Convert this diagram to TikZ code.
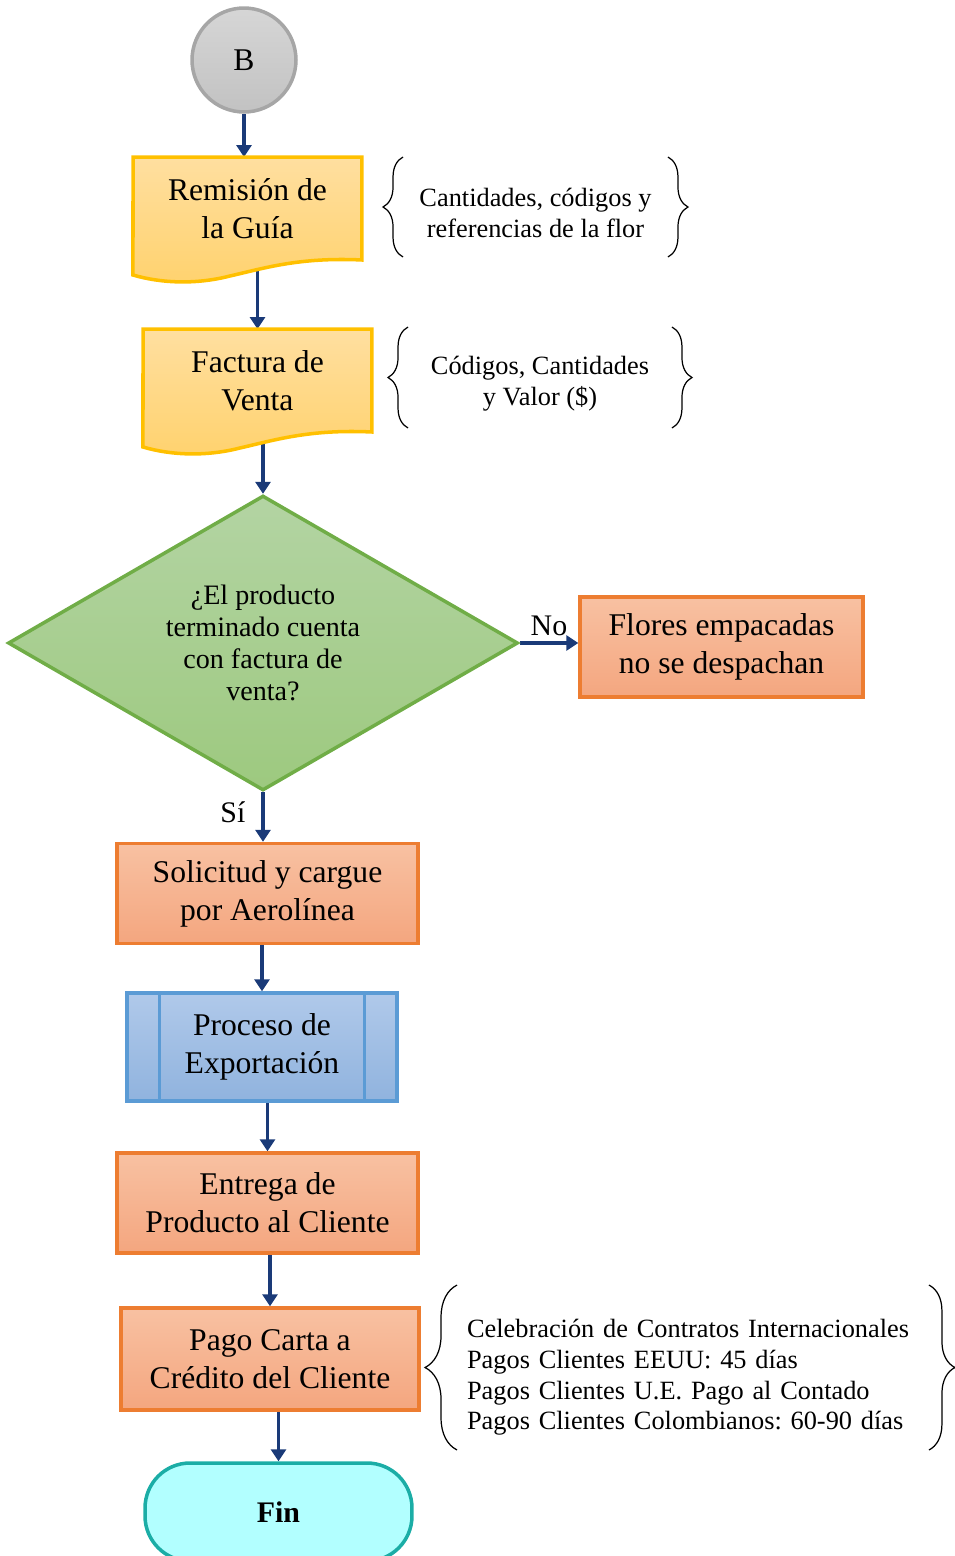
\documentclass[tikz,border=0pt]{standalone}
\usepackage{fontspec}
\setmainfont{Liberation Serif}
\usepackage{tikz}
\usetikzlibrary{shapes,arrows,positioning,calc,decorations.pathreplacing,arrows.meta,backgrounds}
\frenchspacing

\definecolor{naranjaA}{HTML}{F8C1A2}
\definecolor{naranjaC}{HTML}{F4A67F}
\definecolor{naranjaB}{HTML}{ED7D31}
\definecolor{amarilloA}{HTML}{FFDFA0}
\definecolor{amarilloC}{HTML}{FFD26E}
\definecolor{amarilloB}{HTML}{FFC000}
\definecolor{verdeA}{HTML}{B3D4A3}
\definecolor{verdeC}{HTML}{9DC97F}
\definecolor{verdeB}{HTML}{70AD47}
\definecolor{azulA}{HTML}{B0C9EA}
\definecolor{azulC}{HTML}{90B3DE}
\definecolor{azulB}{HTML}{5B9BD5}
\definecolor{grisA}{HTML}{D6D6D6}
\definecolor{grisC}{HTML}{C2C2C2}
\definecolor{grisB}{HTML}{A6A6A6}
\definecolor{cianA}{HTML}{B2FFFF}
\definecolor{cianB}{HTML}{1BADA6}
\definecolor{azulF}{HTML}{1A3A78}

\begin{document}
\begin{tikzpicture}[x=0.02cm, y=-0.02cm,
    texto/.style={align=center, font=\fontsize{18}{21.5}\selectfont},
    caja/.style={texto, rectangle, draw=naranjaB, line width=2pt, top color=naranjaA, bottom color=naranjaC, minimum width=6.02cm, minimum height=2cm},
    docu/.style={texto, rectangle, minimum width=4.58cm, minimum height=2.06cm, outer sep=0pt},
    docfondo/.style={draw=amarilloB, line width=2pt, top color=amarilloA, bottom color=amarilloC},
    flecha/.style={draw=azulF, line width=2pt, -{Triangle[length=0.24cm,width=0.3cm]}},
    nota/.style={font=\fontsize{15}{17.5}\selectfont, align=center, outer sep=0pt},
    llave/.style={draw=black, line width=0.7pt, decorate, decoration={brace, amplitude=0.4cm}},
    etiq/.style={font=\fontsize{17}{20}\selectfont}
]
    \useasboundingbox (0,0) rectangle (955,1556);
    \clip (0,0) rectangle (955,1556);

    \node[circle, draw=grisB, line width=2pt, top color=grisA, bottom color=grisC, minimum size=2.08cm, texto] (B) at (244,60) {B};
    \node[docu] (rem) at (247.5,208.5) {Remisión de\\la Guía};
    \node[docu] (fac) at (257.5,380.5) {Factura de\\Venta};
    \node[diamond, draw=verdeB, line width=2pt, top color=verdeA, bottom color=verdeC, minimum width=10.2cm, minimum height=5.9cm, aspect=1.73, inner sep=0pt, align=center, font=\fontsize{16}{18.1}\selectfont] (dec) at (263,643) {¿El producto\\terminado cuenta\\con factura de\\venta?};
    \node[caja, minimum width=5.66cm] (flo) at (721.5,647) {Flores empacadas\\no se despachan};
    \node[caja] (sol) at (267.5,893.5) {Solicitud y cargue\\por Aerolínea};
    \node[caja, draw=azulB, top color=azulA, bottom color=azulC, minimum width=5.4cm, minimum height=2.16cm] (pro) at (262,1047) {Proceso de\\Exportación};
    \node[caja] (ent) at (267.5,1203) {Entrega de\\Producto al Cliente};
    \node[caja, minimum width=5.96cm, minimum height=2.04cm] (pag) at (270,1359) {Pago Carta a\\Crédito del Cliente};
    \node[caja, draw=cianB, top color=cianA, bottom color=cianA, rounded corners=0.9cm, minimum width=5.34cm, minimum height=1.96cm, font=\fontsize{17}{20}\selectfont\bfseries] (fin) at (278.5,1512) {Fin};

    % notas con llaves
    \node[nota, minimum width=5.3cm, minimum height=2cm] (n1) at (535.5,213) {Cantidades, códigos y\\referencias de la flor};
    \node[nota, minimum width=5.28cm, minimum height=2.02cm] (n2) at (540,384) {Códigos, Cantidades\\y Valor (\$)};
    \node[nota, minimum width=9.44cm, minimum height=3.3cm, text width=9.04cm, inner xsep=0.2cm, align=left, font=\fontsize{15}{17.4}\selectfont] (n3) at (693,1377.5) {Celebración de Contratos Internacionales\\Pagos Clientes EEUU: 45 días\\Pagos Clientes U.E. Pago al Contado\\Pagos Clientes Colombianos: 60-90 días};

    \draw[llave] ([yshift=0.12cm]n1.south west) -- ([yshift=0.12cm]n1.north west);
    \draw[llave] ([yshift=0.12cm]n1.north east) -- ([yshift=0.12cm]n1.south east);
    \draw[llave] ([yshift=0.13cm]n2.south west) -- ([yshift=0.13cm]n2.north west);
    \draw[llave] ([yshift=0.13cm]n2.north east) -- ([yshift=0.13cm]n2.south east);
    \draw[llave, decoration={brace, amplitude=0.64cm}] ([yshift=0.2cm]n3.south west) -- ([yshift=0.2cm]n3.north west);
    \draw[llave, decoration={brace, amplitude=0.52cm}] ([yshift=0.2cm]n3.north east) -- ([yshift=0.2cm]n3.south east);

    \draw[azulB, line width=2pt] ($(pro.north west)+(34,0)$) -- ($(pro.south west)+(34,0)$);
    \draw[azulB, line width=2pt] ($(pro.north east)+(-34,0)$) -- ($(pro.south east)+(-34,0)$);

    \begin{scope}[on background layer]
        \draw[flecha] (B.south) -- (B.south |- rem.north);
        \draw[flecha] (fac.north |- rem.south) -- (fac.north);
        \draw[flecha] (dec.north |- fac.south) -- (dec.north);
        \draw[flecha] (dec.east) -- (dec.east -| flo.west) node[midway, above, etiq] {No};
        \draw[flecha] (dec.south) -- (dec.south |- sol.north) node[pos=0.4, left, xshift=-0.2cm, etiq] {Sí};
        \draw[flecha] (pro.north |- sol.south) -- (pro.north);
        \draw[flecha] (ent.north |- pro.south) -- (ent.north);
        \draw[flecha] (pag.north |- ent.south) -- (pag.north);
        \draw[flecha] (fin.north |- pag.south) -- (fin.north);

        % documentos
        \path[docfondo] (rem.north west) -- (rem.north east) -- (rem.south east)
            .. controls +(-62,-3) and +(35,-8) .. ++(-132,16)
            .. controls +(-35,9) and +(27,8) .. ++(-97,-1) -- cycle;
        \path[docfondo] (fac.north west) -- (fac.north east) -- (fac.south east)
            .. controls +(-62,-3) and +(35,-8) .. ++(-132,16)
            .. controls +(-35,9) and +(27,8) .. ++(-97,-1) -- cycle;
    \end{scope}
\end{tikzpicture}
\end{document}
